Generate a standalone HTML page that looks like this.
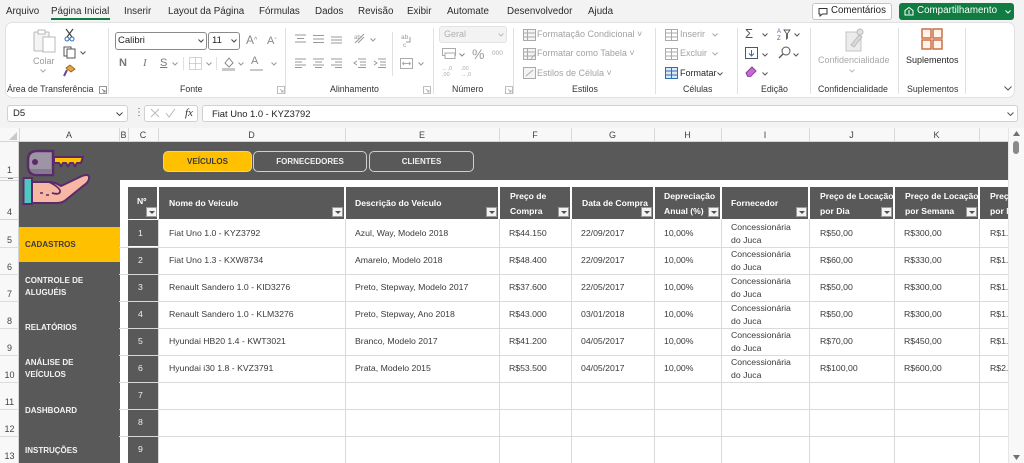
<!DOCTYPE html>
<html><head><meta charset="utf-8">
<style>
*{box-sizing:border-box;margin:0;padding:0}
html,body{width:1024px;height:463px;overflow:hidden}
body{position:relative;background:#f3f3f3;font-family:"Liberation Sans",Arial,sans-serif;color:#333}
.a{position:absolute;white-space:nowrap}
.t{top:6px;font-size:9.8px;line-height:12px;color:#2b2b2b}
.g{top:84px;font-size:8.8px;line-height:11px;color:#333}
.sp{position:absolute;width:1px;background:#e0e0e0;top:28px;height:66px}
.r9{font-size:9px;line-height:11px;color:#a2a2a2}
.cl{position:absolute;top:128px;height:14px;width:1px;background:#d8d8d8}
.cn{position:absolute;top:129px;font-size:9px;line-height:12px;color:#444;text-align:center}
.rn{position:absolute;left:0;width:19px;text-align:center;font-size:9px;line-height:12px;color:#444}
.hc{position:absolute;top:187px;height:32px;background:#595959}
.ht{position:absolute;font-size:8.6px;font-weight:bold;color:#fff;line-height:11px;white-space:nowrap}
.h2{line-height:15px;top:189px}
.fb{position:absolute;top:207px;width:11px;height:10px;background:#f2f2f2;border:1px solid #9a9a9a}
.fb:after{content:"";position:absolute;left:2px;top:3px;border-left:3px solid transparent;border-right:3px solid transparent;border-top:3px solid #505050}
.hl{position:absolute;left:119px;width:889px;height:1px;background:#dadada}
.vl{position:absolute;top:219px;height:244px;width:1px;background:#dadada}
.cc{position:absolute;left:128px;width:30px;height:26px;background:#595959}
.b{position:absolute;font-size:8.7px;line-height:11px;color:#3a3a3a;white-space:nowrap}
.i2{position:absolute;left:731px;font-size:8.7px;line-height:13px;color:#3a3a3a;white-space:nowrap}
.nn{position:absolute;left:138px;font-size:8.7px;line-height:11px;color:#f0f0f0}
.sb{position:absolute;left:25px;font-size:8px;font-weight:bold;color:#f4f4f4;line-height:12px;white-space:nowrap}
.tb{position:absolute;top:151px;height:21px;border-radius:5px;font-size:8px;font-weight:bold;line-height:19px;text-align:center}
.cD{left:169px}.cE{left:355px}.cF{left:509px}.cG{left:581px}.cH{left:664px}.cJ{left:820px}.cK{left:904px}.cL{left:990px}
</style></head><body>

<!-- Tabs -->
<div class="a t" style="left:6px">Arquivo</div>
<div class="a t" style="left:51px">Página Inicial</div>
<div class="a" style="left:51px;top:18px;width:59px;height:2px;background:#107c41"></div>
<div class="a t" style="left:124px">Inserir</div>
<div class="a t" style="left:168px">Layout da Página</div>
<div class="a t" style="left:259px">Fórmulas</div>
<div class="a t" style="left:315px">Dados</div>
<div class="a t" style="left:358px">Revisão</div>
<div class="a t" style="left:407px">Exibir</div>
<div class="a t" style="left:447px">Automate</div>
<div class="a t" style="left:507px">Desenvolvedor</div>
<div class="a t" style="left:588px">Ajuda</div>

<div class="a" style="left:812px;top:3px;width:80px;height:17px;background:#fff;border:1px solid #c4c4c4;border-radius:3px"></div>
<svg class="a" style="left:818px;top:7px" width="10" height="10"><path d="M1 1.5h8v5.5H4.5L2 9V7H1z" fill="none" stroke="#333" stroke-width="1"/></svg>
<div class="a" style="left:831px;top:5px;font-size:9.7px;line-height:12px;color:#222">Comentários</div>
<div class="a" style="left:899px;top:3px;width:115px;height:17px;background:#107c41;border-radius:3px"></div>
<svg class="a" style="left:904px;top:6px" width="10" height="10"><path d="M1 9V4.5L5 1.5l4 3V9zM5 4v4" fill="none" stroke="#fff" stroke-width="1"/></svg>
<div class="a" style="left:917px;top:5px;font-size:9.8px;line-height:12px;color:#fff">Compartilhamento</div>
<svg class="a" style="left:1005px;top:10px" width="6" height="4"><path d="M.5 .5l2.5 2.5 2.5-2.5" fill="none" stroke="#fff"/></svg>

<!-- Ribbon panel -->
<div class="a" style="left:6px;top:23px;width:1008px;height:74px;background:#fff;border-radius:6px;box-shadow:0 0 1.5px rgba(0,0,0,.3)"></div>
<div class="sp" style="left:108px"></div>
<div class="sp" style="left:285px"></div>
<div class="sp" style="left:433px"></div>
<div class="sp" style="left:513px"></div>
<div class="sp" style="left:655px"></div>
<div class="sp" style="left:737px"></div>
<div class="sp" style="left:810px"></div>
<div class="sp" style="left:898px"></div>
<div class="sp" style="left:965px"></div>
<div class="sp" style="left:392px;top:32px;height:44px"></div>
<div class="sp" style="left:183px;top:57px;height:13px"></div>
<div class="sp" style="left:216px;top:57px;height:13px"></div>

<!-- Clipboard -->
<svg class="a" style="left:33px;top:28px" width="24" height="25"><rect x="1" y="4" width="15" height="19" rx="1" fill="#f4f4f4" stroke="#b8b8b8"/><rect x="5" y="2" width="7" height="4" fill="#fff" stroke="#b8b8b8"/><rect x="10" y="9" width="12" height="15" fill="#fff" stroke="#b8b8b8"/></svg>
<div class="a r9" style="left:33px;top:56px;color:#9a9a9a">Colar</div>
<svg class="a" style="left:40px;top:69px" width="6" height="4"><path d="M.5 .5l2.5 2.5 2.5-2.5" fill="none" stroke="#aaa"/></svg>
<svg class="a" style="left:64px;top:28px" width="11" height="14"><path d="M2 1l6 8M9 1L3 9" stroke="#444" stroke-width="1.2"/><circle cx="3" cy="11" r="2" fill="none" stroke="#2b6cb0"/><circle cx="8" cy="11" r="2" fill="none" stroke="#2b6cb0"/></svg>
<svg class="a" style="left:63px;top:46px" width="13" height="13"><rect x="1" y="1" width="7" height="9" fill="#fff" stroke="#555"/><rect x="4" y="3" width="8" height="9" fill="#fff" stroke="#555"/></svg>
<svg class="a" style="left:80px;top:51px" width="6" height="4"><path d="M.5 .5l2.5 2.5 2.5-2.5" fill="none" stroke="#555"/></svg>
<svg class="a" style="left:63px;top:64px" width="13" height="13"><path d="M7 1l5 4-4 3-5-4z" fill="#e8a33d" stroke="#8a5a1a" stroke-width=".8"/><path d="M4 6L1 12" stroke="#6a4a8a" stroke-width="2"/></svg>
<div class="a g" style="left:7px">Área de Transferência</div>
<svg class="a" style="left:99px;top:86px" width="8" height="8"><path d="M.5 .5h7v7h-7zM3 3l3 3M6 4v2H4" fill="none" stroke="#777" stroke-width=".8"/></svg>

<!-- Fonte -->
<div class="a" style="left:115px;top:32px;width:92px;height:18px;border:1px solid #8a8a8a;border-radius:3px;background:#fff"></div>
<div class="a" style="left:118px;top:35px;font-size:9.5px;line-height:12px;color:#222">Calibri</div>
<svg class="a" style="left:198px;top:39px" width="6" height="4"><path d="M.5 .5l2.5 2.5 2.5-2.5" fill="none" stroke="#444"/></svg>
<div class="a" style="left:208px;top:32px;width:32px;height:18px;border:1px solid #8a8a8a;border-radius:3px;background:#fff"></div>
<div class="a" style="left:212px;top:35px;font-size:9.5px;line-height:12px;color:#222">11</div>
<svg class="a" style="left:231px;top:39px" width="6" height="4"><path d="M.5 .5l2.5 2.5 2.5-2.5" fill="none" stroke="#444"/></svg>
<div class="a" style="left:246px;top:34px;font-size:12px;line-height:13px;color:#888">A<span style="font-size:7px;vertical-align:top">^</span></div>
<div class="a" style="left:267px;top:35px;font-size:11px;line-height:13px;color:#888">A<span style="font-size:7px;vertical-align:top">ˇ</span></div>
<div class="a" style="left:119px;top:57px;font-size:11px;line-height:13px;font-weight:bold;color:#777">N</div>
<div class="a" style="left:143px;top:57px;font-size:11px;line-height:13px;font-style:italic;font-family:'Liberation Serif',serif;color:#777">I</div>
<div class="a" style="left:160px;top:57px;font-size:11px;line-height:13px;text-decoration:underline;color:#777">S</div>
<svg class="a" style="left:172px;top:62px" width="6" height="4"><path d="M.5 .5l2.5 2.5 2.5-2.5" fill="none" stroke="#999"/></svg>
<svg class="a" style="left:189px;top:57px" width="13" height="13"><path d="M.5 .5h12v12H.5zM6.5 .5v12M.5 6.5h12" fill="none" stroke="#aaa" stroke-dasharray="1 1"/></svg>
<svg class="a" style="left:206px;top:62px" width="6" height="4"><path d="M.5 .5l2.5 2.5 2.5-2.5" fill="none" stroke="#999"/></svg>
<svg class="a" style="left:222px;top:56px" width="13" height="15"><path d="M3 7l4-5 4 5-4 4z" fill="none" stroke="#888"/><rect x="0" y="12" width="13" height="3" fill="#c8c8c8"/></svg>
<svg class="a" style="left:238px;top:62px" width="6" height="4"><path d="M.5 .5l2.5 2.5 2.5-2.5" fill="none" stroke="#999"/></svg>
<div class="a" style="left:251px;top:55px;font-size:11px;line-height:13px;color:#888">A</div>
<div class="a" style="left:250px;top:69px;width:13px;height:2px;background:#c8c8c8"></div>
<svg class="a" style="left:271px;top:62px" width="6" height="4"><path d="M.5 .5l2.5 2.5 2.5-2.5" fill="none" stroke="#999"/></svg>
<div class="a g" style="left:180px">Fonte</div>
<svg class="a" style="left:277px;top:86px" width="8" height="8"><path d="M.5 .5h7v7h-7zM3 3l3 3M6 4v2H4" fill="none" stroke="#aaa" stroke-width=".8"/></svg>

<!-- Alinhamento -->
<svg class="a" style="left:295px;top:34px" width="11" height="10"><path d="M0 1h11M2 4.5h7M0 8h11" stroke="#999"/></svg>
<svg class="a" style="left:313px;top:34px" width="11" height="10"><path d="M0 1.5h11M0 5h11M0 8.5h11" stroke="#999"/></svg>
<svg class="a" style="left:331px;top:34px" width="11" height="10"><path d="M0 3h11M0 6h11M0 9h11" stroke="#999"/></svg>
<svg class="a" style="left:353px;top:32px" width="13" height="13"><path d="M2 11L11 2M5 11l6-6" stroke="#999"/><text x="1" y="7" font-size="6" fill="#999" font-family="Liberation Sans">ab</text></svg>
<svg class="a" style="left:370px;top:38px" width="6" height="4"><path d="M.5 .5l2.5 2.5 2.5-2.5" fill="none" stroke="#999"/></svg>
<svg class="a" style="left:295px;top:58px" width="11" height="10"><path d="M0 1h11M0 4h7M0 7h11M0 9.5h7" stroke="#999"/></svg>
<svg class="a" style="left:313px;top:58px" width="11" height="10"><path d="M0 1h11M2 4h7M0 7h11M2 9.5h7" stroke="#999"/></svg>
<svg class="a" style="left:331px;top:58px" width="11" height="10"><path d="M0 1h11M4 4h7M0 7h11M4 9.5h7" stroke="#999"/></svg>
<svg class="a" style="left:353px;top:58px" width="13" height="10"><path d="M5 1h8M7 4h6M7 7h6M5 9.5h8M4 3L1 5l3 2" fill="none" stroke="#999"/></svg>
<svg class="a" style="left:373px;top:58px" width="13" height="10"><path d="M5 1h8M7 4h6M7 7h6M5 9.5h8M1 3l3 2-3 2" fill="none" stroke="#999"/></svg>
<svg class="a" style="left:400px;top:33px" width="13" height="16"><text x="1" y="6" font-size="6.5" fill="#999" font-family="Liberation Sans">ab</text><text x="3" y="14" font-size="6.5" fill="#999" font-family="Liberation Sans">c</text><path d="M10 4v5H6" fill="none" stroke="#999"/></svg>
<svg class="a" style="left:400px;top:58px" width="13" height="11"><rect x=".5" y=".5" width="12" height="10" fill="none" stroke="#aaa"/><path d="M3 5.5h7M4 4l-1.5 1.5L4 7M9 4l1.5 1.5L9 7" fill="none" stroke="#aaa"/></svg>
<svg class="a" style="left:418px;top:62px" width="6" height="4"><path d="M.5 .5l2.5 2.5 2.5-2.5" fill="none" stroke="#999"/></svg>
<div class="a g" style="left:330px">Alinhamento</div>
<svg class="a" style="left:423px;top:86px" width="8" height="8"><path d="M.5 .5h7v7h-7zM3 3l3 3M6 4v2H4" fill="none" stroke="#aaa" stroke-width=".8"/></svg>

<!-- Número -->
<div class="a" style="left:439px;top:26px;width:68px;height:17px;background:#f3f3f3;border:1px solid #e3e3e3;border-radius:3px"></div>
<div class="a r9" style="left:444px;top:29px;color:#b0b0b0">Geral</div>
<svg class="a" style="left:498px;top:33px" width="6" height="4"><path d="M.5 .5l2.5 2.5 2.5-2.5" fill="none" stroke="#bbb"/></svg>
<svg class="a" style="left:442px;top:48px" width="14" height="11"><rect x=".5" y=".5" width="13" height="7" fill="none" stroke="#aaa"/><rect x="3" y="5" width="10" height="5.5" fill="#fff" stroke="#aaa"/></svg>
<svg class="a" style="left:459px;top:53px" width="6" height="4"><path d="M.5 .5l2.5 2.5 2.5-2.5" fill="none" stroke="#888"/></svg>
<div class="a" style="left:472px;top:46px;font-size:14px;line-height:16px;color:#999">%</div>
<div class="a" style="left:492px;top:50px;font-size:6.5px;line-height:8px;color:#aaa">000</div>
<div class="a" style="left:442px;top:66px;font-size:5.5px;line-height:6px;color:#aaa">←,0<br>,00</div>
<div class="a" style="left:461px;top:66px;font-size:5.5px;line-height:6px;color:#aaa">,00<br>→,0</div>
<div class="a g" style="left:452px">Número</div>
<svg class="a" style="left:505px;top:86px" width="8" height="8"><path d="M.5 .5h7v7h-7zM3 3l3 3M6 4v2H4" fill="none" stroke="#aaa" stroke-width=".8"/></svg>

<!-- Estilos -->
<svg class="a" style="left:523px;top:29px" width="13" height="12"><rect x=".5" y=".5" width="12" height="11" fill="#f4f4f4" stroke="#aaa"/><path d="M.5 4h12M.5 8h12M4.5 .5v11" stroke="#aaa"/></svg>
<svg class="a" style="left:523px;top:48px" width="13" height="12"><rect x=".5" y=".5" width="12" height="11" fill="#f4f4f4" stroke="#aaa"/><path d="M.5 4h12M.5 8h12M4.5 .5v11M8 11l4-5" stroke="#aaa"/></svg>
<svg class="a" style="left:523px;top:67px" width="13" height="12"><rect x=".5" y=".5" width="12" height="11" fill="#f4f4f4" stroke="#aaa"/><path d="M3 9l7-6" stroke="#aaa"/></svg>
<div class="a r9" style="left:537px;top:29px">Formatação Condicional ˅</div>
<div class="a r9" style="left:537px;top:48px">Formatar como Tabela ˅</div>
<div class="a r9" style="left:537px;top:68px">Estilos de Célula ˅</div>
<div class="a g" style="left:572px">Estilos</div>

<!-- Células -->
<svg class="a" style="left:665px;top:29px" width="13" height="12"><rect x=".5" y=".5" width="12" height="11" fill="none" stroke="#aaa"/><path d="M.5 4h12M.5 8h12M6.5 .5v11" stroke="#aaa"/></svg>
<svg class="a" style="left:665px;top:48px" width="13" height="12"><rect x=".5" y=".5" width="12" height="11" fill="none" stroke="#aaa"/><path d="M.5 4h12M.5 8h12M6.5 .5v11" stroke="#aaa"/></svg>
<svg class="a" style="left:665px;top:67px" width="13" height="12"><rect x=".5" y=".5" width="12" height="11" fill="#dbe9f7" stroke="#2f6db5"/><path d="M.5 4h12M.5 8h12M6.5 .5v11" stroke="#2f6db5"/></svg>
<div class="a r9" style="left:680px;top:29px">Inserir</div>
<svg class="a" style="left:712px;top:33px" width="6" height="4"><path d="M.5 .5l2.5 2.5 2.5-2.5" fill="none" stroke="#aaa"/></svg>
<div class="a r9" style="left:680px;top:48px">Excluir</div>
<svg class="a" style="left:712px;top:52px" width="6" height="4"><path d="M.5 .5l2.5 2.5 2.5-2.5" fill="none" stroke="#aaa"/></svg>
<div class="a r9" style="left:680px;top:68px;color:#262626">Formatar</div>
<svg class="a" style="left:717px;top:72px" width="6" height="4"><path d="M.5 .5l2.5 2.5 2.5-2.5" fill="none" stroke="#555"/></svg>
<div class="a g" style="left:683px">Células</div>

<!-- Edição -->
<div class="a" style="left:745px;top:27px;font-size:13px;line-height:14px;color:#555">Σ</div>
<svg class="a" style="left:762px;top:33px" width="6" height="4"><path d="M.5 .5l2.5 2.5 2.5-2.5" fill="none" stroke="#555"/></svg>
<svg class="a" style="left:777px;top:27px" width="14" height="14"><text x="0" y="6" font-size="6" fill="#7a4fb0" font-family="Liberation Sans">A</text><text x="0" y="13" font-size="6" fill="#555" font-family="Liberation Sans">Z</text><path d="M7 3h6l-2.5 3.5V11L9.5 12V6.5z" fill="none" stroke="#555" stroke-width=".9"/></svg>
<svg class="a" style="left:794px;top:33px" width="6" height="4"><path d="M.5 .5l2.5 2.5 2.5-2.5" fill="none" stroke="#555"/></svg>
<svg class="a" style="left:745px;top:47px" width="13" height="12"><rect x=".5" y=".5" width="12" height="11" fill="#fff" stroke="#555"/><path d="M6.5 3v6M4 6.5l2.5 2.5 2.5-2.5" fill="none" stroke="#2f6db5"/></svg>
<svg class="a" style="left:762px;top:53px" width="6" height="4"><path d="M.5 .5l2.5 2.5 2.5-2.5" fill="none" stroke="#555"/></svg>
<svg class="a" style="left:778px;top:46px" width="13" height="13"><circle cx="8" cy="5" r="4" fill="none" stroke="#555"/><path d="M5 8l-4 4" stroke="#555" stroke-width="1.3"/></svg>
<svg class="a" style="left:793px;top:53px" width="6" height="4"><path d="M.5 .5l2.5 2.5 2.5-2.5" fill="none" stroke="#555"/></svg>
<svg class="a" style="left:745px;top:66px" width="12" height="11"><path d="M1 7l6-6 4 4-6 6H3z" fill="#c36bd0" stroke="#8a3f9a"/></svg>
<svg class="a" style="left:762px;top:72px" width="6" height="4"><path d="M.5 .5l2.5 2.5 2.5-2.5" fill="none" stroke="#555"/></svg>
<div class="a g" style="left:761px">Edição</div>

<!-- Confidencialidade -->
<svg class="a" style="left:843px;top:27px" width="22" height="26"><path d="M3 5h11l4 4v15H3z" fill="#ececec" stroke="#c4c4c4"/><path d="M8 18l8-10 3 2-8 10z" fill="#d8d8d8" stroke="#bcbcbc"/><circle cx="17" cy="5" r="3" fill="#e0e0e0" stroke="#bcbcbc"/></svg>
<div class="a r9" style="left:818px;top:55px;color:#a8a8a8">Confidencialidade</div>
<svg class="a" style="left:849px;top:69px" width="6" height="4"><path d="M.5 .5l2.5 2.5 2.5-2.5" fill="none" stroke="#bbb"/></svg>
<div class="a g" style="left:818px">Confidencialidade</div>

<!-- Suplementos -->
<svg class="a" style="left:921px;top:28px" width="22" height="22"><rect x="1" y="1" width="9" height="9" fill="#fff4ec" stroke="#c8653a" stroke-width="1.4"/><rect x="12" y="1" width="9" height="9" fill="#fff4ec" stroke="#c8653a" stroke-width="1.4"/><rect x="1" y="12" width="9" height="9" fill="#fff4ec" stroke="#c8653a" stroke-width="1.4"/><rect x="12" y="12" width="9" height="9" fill="#fff4ec" stroke="#c8653a" stroke-width="1.4"/></svg>
<div class="a" style="left:906px;top:55px;font-size:9px;line-height:11px;color:#262626">Suplementos</div>
<div class="a g" style="left:907px">Suplementos</div>
<svg class="a" style="left:1004px;top:86px" width="8" height="5"><path d="M.5 .5l3.5 3.5 3.5-3.5" fill="none" stroke="#555"/></svg>

<!-- Formula bar -->
<div class="a" style="left:7px;top:105px;width:121px;height:17px;background:#fff;border:1px solid #d1d1d1;border-radius:3px"></div>
<div class="a" style="left:13px;top:108px;font-size:9.5px;line-height:12px;color:#222">D5</div>
<svg class="a" style="left:116px;top:112px" width="7" height="4"><path d="M.5 .5l3 3 3-3" fill="none" stroke="#444"/></svg>
<div class="a" style="left:134px;top:107px;font-size:10px;line-height:12px;color:#555">⋮</div>
<div class="a" style="left:144px;top:105px;width:54px;height:17px;background:#fff;border:1px solid #d1d1d1;border-radius:3px"></div>
<svg class="a" style="left:150px;top:108px" width="10" height="10"><path d="M1 1l8 8M9 1L1 9" stroke="#bbb"/></svg>
<svg class="a" style="left:165px;top:108px" width="11" height="10"><path d="M1 5l3 4 6-8" fill="none" stroke="#bbb"/></svg>
<div class="a" style="left:185px;top:106px;font-size:11px;line-height:14px;font-style:italic;font-family:'Liberation Serif',serif;color:#333">fx</div>
<div class="a" style="left:202px;top:105px;width:816px;height:17px;background:#fff;border:1px solid #d1d1d1;border-radius:3px"></div>
<div class="a" style="left:212px;top:108px;font-size:9.4px;line-height:12px;color:#222">Fiat Uno 1.0 - KYZ3792</div>
<svg class="a" style="left:1007px;top:112px" width="7" height="4"><path d="M.5 .5l3 3 3-3" fill="none" stroke="#555"/></svg>

<!-- Column headers -->
<div class="a" style="left:0;top:128px;width:1008px;height:14px;background:#f8f8f8;border-bottom:1px solid #d4d4d4"></div>
<svg class="a" style="left:9px;top:132px" width="9" height="9"><path d="M8 0V8H0z" fill="#c8c8c8"/></svg>
<div class="cl" style="left:19px"></div><div class="cl" style="left:119px"></div><div class="cl" style="left:128px"></div>
<div class="cl" style="left:158px"></div><div class="cl" style="left:345px"></div><div class="cl" style="left:499px"></div>
<div class="cl" style="left:571px"></div><div class="cl" style="left:654px"></div><div class="cl" style="left:721px"></div>
<div class="cl" style="left:809px"></div><div class="cl" style="left:894px"></div><div class="cl" style="left:979px"></div>
<div class="cn" style="left:19px;width:100px">A</div>
<div class="cn" style="left:119px;width:9px">B</div>
<div class="cn" style="left:128px;width:30px">C</div>
<div class="cn" style="left:158px;width:187px">D</div>
<div class="cn" style="left:345px;width:154px">E</div>
<div class="cn" style="left:499px;width:72px">F</div>
<div class="cn" style="left:571px;width:83px">G</div>
<div class="cn" style="left:654px;width:67px">H</div>
<div class="cn" style="left:721px;width:88px">I</div>
<div class="cn" style="left:809px;width:85px">J</div>
<div class="cn" style="left:894px;width:85px">K</div>

<!-- Row headers -->
<div class="a" style="left:0;top:142px;width:19px;height:321px;background:#f8f8f8;border-right:1px solid #d4d4d4"></div>
<div class="a" style="left:0;top:177px;width:19px;height:1px;background:#d4d4d4"></div>
<div class="a" style="left:0;top:180px;width:19px;height:1px;background:#d4d4d4"></div>
<div class="a" style="left:8px;top:178px;width:5px;height:1px;background:#777"></div>
<div class="a" style="left:0;top:219px;width:19px;height:1px;background:#d4d4d4"></div>
<div class="a" style="left:0;top:247px;width:19px;height:1px;background:#dcdcdc"></div>
<div class="a" style="left:0;top:274px;width:19px;height:1px;background:#dcdcdc"></div>
<div class="a" style="left:0;top:301px;width:19px;height:1px;background:#dcdcdc"></div>
<div class="a" style="left:0;top:328px;width:19px;height:1px;background:#dcdcdc"></div>
<div class="a" style="left:0;top:355px;width:19px;height:1px;background:#dcdcdc"></div>
<div class="a" style="left:0;top:382px;width:19px;height:1px;background:#dcdcdc"></div>
<div class="a" style="left:0;top:409px;width:19px;height:1px;background:#dcdcdc"></div>
<div class="a" style="left:0;top:436px;width:19px;height:1px;background:#dcdcdc"></div>
<div class="rn" style="top:164px">1</div>
<div class="rn" style="top:206px">4</div>
<div class="rn" style="top:234px">5</div>
<div class="rn" style="top:261px">6</div>
<div class="rn" style="top:288px">7</div>
<div class="rn" style="top:315px">8</div>
<div class="rn" style="top:342px">9</div>
<div class="rn" style="top:369px">10</div>
<div class="rn" style="top:396px">11</div>
<div class="rn" style="top:423px">12</div>
<div class="rn" style="top:450px">13</div>

<!-- Dark areas -->
<div class="a" style="left:19px;top:142px;width:101px;height:321px;background:#595959"></div>
<div class="a" style="left:119px;top:142px;width:889px;height:38px;background:#595959"></div>
<div class="a" style="left:120px;top:180px;width:888px;height:283px;background:#fff"></div>

<!-- Key & hand icon -->
<svg class="a" style="left:19px;top:142px" width="100" height="78">
<path d="M35 15H64L62 21H58L56 24.5L54 21H51L49 24.5L47 21H44L42 24.5L40 21H35Z" fill="#ffc000" stroke="#5a2a6a" stroke-width="2" stroke-linejoin="round"/>
<path d="M18 9H34V33H18Q9 33 9 24V18Q9 9 18 9Z" fill="#9d94a6" stroke="#5a2a6a" stroke-width="2.5"/>
<path d="M11 27H33V32H18Q12 32 11 27Z" fill="#85798f"/>
<circle cx="16" cy="20" r="3" fill="#5a2a6a"/>
<path d="M13 40L30 40Q36 40 42 44L63 34Q71 31 70 37Q69 41 64 44L48 57Q44 61 38 61L13 61Z" fill="#f7b7a3" stroke="#5a2a6a" stroke-width="2" stroke-linejoin="round"/>
<path d="M30 40Q42 46 41 50Q40 53 33 51" fill="none" stroke="#5a2a6a" stroke-width="1.8"/>
<path d="M21 51h3M27 53h3" stroke="#5a2a6a" stroke-width="1.6"/>
<rect x="4.5" y="36" width="8.5" height="26" fill="#4fc9c0" stroke="#5a2a6a" stroke-width="2"/>
</svg>

<!-- Row 1 buttons -->
<div class="tb" style="left:163px;width:89px;background:#ffc000;border:1px solid #f1d27c;color:#3a3a3a">VEÍCULOS</div>
<div class="tb" style="left:253px;width:114px;border:1px solid #cfcfcf;color:#f0f0f0">FORNECEDORES</div>
<div class="tb" style="left:369px;width:105px;border:1px solid #cfcfcf;color:#f0f0f0">CLIENTES</div>

<!-- Sidebar -->
<div class="a" style="left:19px;top:227px;width:101px;height:35px;background:#ffc000"></div>
<div class="sb" style="top:239px;color:#3a3a3a">CADASTROS</div>
<div class="sb" style="top:275px">CONTROLE DE</div>
<div class="sb" style="top:287px">ALUGUÉIS</div>
<div class="sb" style="top:322px">RELATÓRIOS</div>
<div class="sb" style="top:357px">ANÁLISE DE</div>
<div class="sb" style="top:369px">VEÍCULOS</div>
<div class="sb" style="top:405px">DASHBOARD</div>
<div class="sb" style="top:445px">INSTRUÇÕES</div>

<!-- Table body grid -->
<div class="hl" style="top:247px"></div><div class="hl" style="top:274px"></div><div class="hl" style="top:301px"></div>
<div class="hl" style="top:328px"></div><div class="hl" style="top:355px"></div><div class="hl" style="top:382px"></div>
<div class="hl" style="top:409px"></div><div class="hl" style="top:436px"></div>
<div class="vl" style="left:128px"></div><div class="vl" style="left:158px"></div><div class="vl" style="left:345px"></div>
<div class="vl" style="left:499px"></div><div class="vl" style="left:571px"></div><div class="vl" style="left:654px"></div>
<div class="vl" style="left:721px"></div><div class="vl" style="left:809px"></div><div class="vl" style="left:894px"></div>
<div class="vl" style="left:979px"></div>

<div class="cc" style="top:220px"></div><div class="cc" style="top:248px"></div><div class="cc" style="top:275px"></div>
<div class="cc" style="top:302px"></div><div class="cc" style="top:329px"></div><div class="cc" style="top:356px"></div>
<div class="cc" style="top:383px"></div><div class="cc" style="top:410px"></div><div class="cc" style="top:437px"></div>

<!-- Table header -->
<div class="hc" style="left:128px;width:29px"></div>
<div class="hc" style="left:159px;width:185px"></div>
<div class="hc" style="left:346px;width:152px"></div>
<div class="hc" style="left:500px;width:70px"></div>
<div class="hc" style="left:572px;width:81px"></div>
<div class="hc" style="left:655px;width:65px"></div>
<div class="hc" style="left:722px;width:86px"></div>
<div class="hc" style="left:810px;width:83px"></div>
<div class="hc" style="left:895px;width:83px"></div>
<div class="hc" style="left:980px;width:28px"></div>

<div class="ht" style="left:137px;top:196px">Nº</div>
<div class="ht" style="left:169px;top:198px">Nome do Veículo</div>
<div class="ht" style="left:355px;top:198px">Descrição do Veículo</div>
<div class="ht h2" style="left:510px">Preço de<br>Compra</div>
<div class="ht" style="left:582px;top:198px">Data de Compra</div>
<div class="ht h2" style="left:664px">Depreciação<br>Anual (%)</div>
<div class="ht" style="left:731px;top:198px">Fornecedor</div>
<div class="ht h2" style="left:820px">Preço de Locação<br>por Dia</div>
<div class="ht h2" style="left:905px">Preço de Locação<br>por Semana</div>
<div class="ht h2" style="left:990px">Preço de Locação<br>por Mês</div>

<div class="fb" style="left:146px"></div>
<div class="fb" style="left:332px"></div>
<div class="fb" style="left:486px"></div>
<div class="fb" style="left:558px"></div>
<div class="fb" style="left:641px"></div>
<div class="fb" style="left:708px"></div>
<div class="fb" style="left:796px"></div>
<div class="fb" style="left:881px"></div>
<div class="fb" style="left:966px"></div>

<!-- Rows -->
<div class="nn" style="top:228px">1</div>
<div class="b cD" style="top:228px">Fiat Uno 1.0 - KYZ3792</div>
<div class="b cE" style="top:228px">Azul, Way, Modelo 2018</div>
<div class="b cF" style="top:228px">R$44.150</div>
<div class="b cG" style="top:228px">22/09/2017</div>
<div class="b cH" style="top:228px">10,00%</div>
<div class="i2" style="top:221px">Concessionária<br>do Juca</div>
<div class="b cJ" style="top:228px">R$50,00</div>
<div class="b cK" style="top:228px">R$300,00</div>
<div class="b cL" style="top:228px">R$1.800,00</div>

<div class="nn" style="top:255px">2</div>
<div class="b cD" style="top:255px">Fiat Uno 1.3 - KXW8734</div>
<div class="b cE" style="top:255px">Amarelo, Modelo 2018</div>
<div class="b cF" style="top:255px">R$48.400</div>
<div class="b cG" style="top:255px">22/09/2017</div>
<div class="b cH" style="top:255px">10,00%</div>
<div class="i2" style="top:248px">Concessionária<br>do Juca</div>
<div class="b cJ" style="top:255px">R$60,00</div>
<div class="b cK" style="top:255px">R$330,00</div>
<div class="b cL" style="top:255px">R$1.900,00</div>

<div class="nn" style="top:282px">3</div>
<div class="b cD" style="top:282px">Renault Sandero 1.0 - KID3276</div>
<div class="b cE" style="top:282px">Preto, Stepway, Modelo 2017</div>
<div class="b cF" style="top:282px">R$37.600</div>
<div class="b cG" style="top:282px">22/05/2017</div>
<div class="b cH" style="top:282px">10,00%</div>
<div class="i2" style="top:275px">Concessionária<br>do Juca</div>
<div class="b cJ" style="top:282px">R$50,00</div>
<div class="b cK" style="top:282px">R$300,00</div>
<div class="b cL" style="top:282px">R$1.800,00</div>

<div class="nn" style="top:309px">4</div>
<div class="b cD" style="top:309px">Renault Sandero 1.0 - KLM3276</div>
<div class="b cE" style="top:309px">Preto, Stepway, Ano 2018</div>
<div class="b cF" style="top:309px">R$43.000</div>
<div class="b cG" style="top:309px">03/01/2018</div>
<div class="b cH" style="top:309px">10,00%</div>
<div class="i2" style="top:302px">Concessionária<br>do Juca</div>
<div class="b cJ" style="top:309px">R$50,00</div>
<div class="b cK" style="top:309px">R$300,00</div>
<div class="b cL" style="top:309px">R$1.800,00</div>

<div class="nn" style="top:336px">5</div>
<div class="b cD" style="top:336px">Hyundai HB20 1.4 - KWT3021</div>
<div class="b cE" style="top:336px">Branco, Modelo 2017</div>
<div class="b cF" style="top:336px">R$41.200</div>
<div class="b cG" style="top:336px">04/05/2017</div>
<div class="b cH" style="top:336px">10,00%</div>
<div class="i2" style="top:329px">Concessionária<br>do Juca</div>
<div class="b cJ" style="top:336px">R$70,00</div>
<div class="b cK" style="top:336px">R$450,00</div>
<div class="b cL" style="top:336px">R$1.500,00</div>

<div class="nn" style="top:363px">6</div>
<div class="b cD" style="top:363px">Hyundai i30 1.8 - KVZ3791</div>
<div class="b cE" style="top:363px">Prata, Modelo 2015</div>
<div class="b cF" style="top:363px">R$53.500</div>
<div class="b cG" style="top:363px">04/05/2017</div>
<div class="b cH" style="top:363px">10,00%</div>
<div class="i2" style="top:356px">Concessionária<br>do Juca</div>
<div class="b cJ" style="top:363px">R$100,00</div>
<div class="b cK" style="top:363px">R$600,00</div>
<div class="b cL" style="top:363px">R$2.400,00</div>

<div class="nn" style="top:390px">7</div>
<div class="nn" style="top:417px">8</div>
<div class="nn" style="top:444px">9</div>

<!-- Scrollbar -->
<div class="a" style="left:1008px;top:128px;width:16px;height:335px;background:#f8f8f8;border-left:1px solid #e6e6e6"></div>
<svg class="a" style="left:1013px;top:131px" width="7" height="5"><path d="M3.5 0L7 5H0z" fill="#707070"/></svg>
<div class="a" style="left:1013px;top:141px;width:6px;height:13px;border-radius:3px;background:#8a8a8a"></div>
<svg class="a" style="left:1013px;top:455px" width="7" height="5"><path d="M0 0H7L3.5 5z" fill="#707070"/></svg>

</body></html>
